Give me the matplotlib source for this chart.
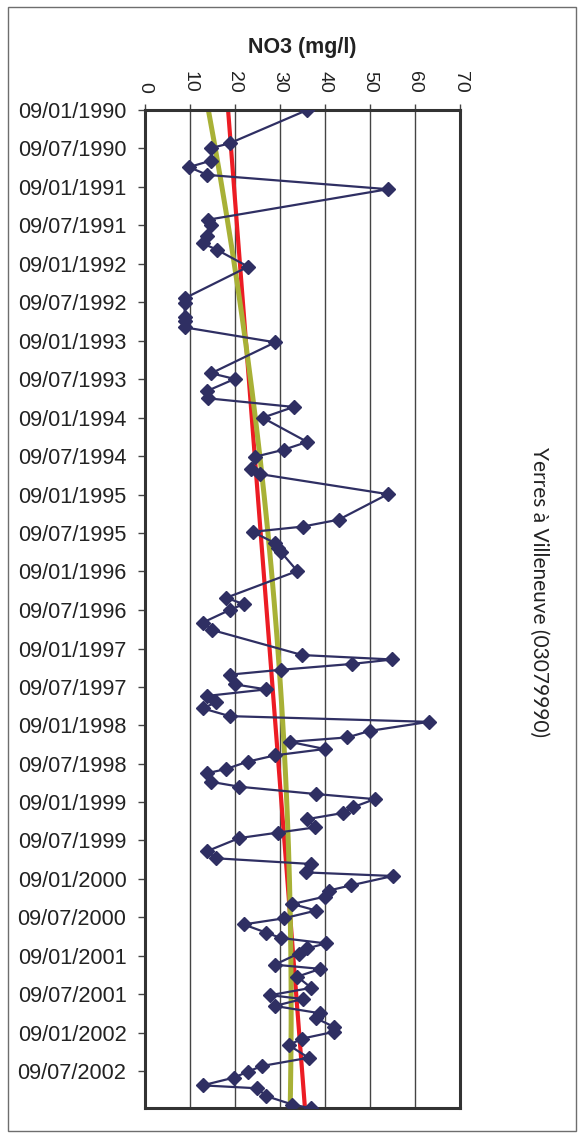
import matplotlib
matplotlib.use("Agg")
import matplotlib.pyplot as plt
import matplotlib.dates as mdates
from matplotlib.patches import Rectangle
import numpy as np
import pandas as pd

# ---- data ----
sample_dates = [
    "1990-01-09", "1990-06-16", "1990-07-09", "1990-09-06", "1990-10-07", "1990-11-13",
    "1991-01-20", "1991-06-14", "1991-07-07", "1991-08-31", "1991-10-04", "1991-11-04",
    "1992-01-23", "1992-06-21", "1992-07-14", "1992-09-16", "1992-10-09", "1992-11-06",
    "1993-01-16", "1993-06-12", "1993-07-09", "1993-09-04", "1993-10-09", "1993-11-19",
    "1994-01-09", "1994-05-04", "1994-06-10", "1994-07-13", "1994-09-10", "1994-10-04",
    "1995-01-07", "1995-05-08", "1995-06-10", "1995-07-05", "1995-08-28", "1995-09-21",
    "1995-10-07", "1996-01-07", "1996-05-13", "1996-06-12", "1996-07-09", "1996-09-08",
    "1996-10-13", "1997-02-09", "1997-03-02", "1997-03-23", "1997-04-20", "1997-05-13",
    "1997-06-28", "1997-07-22", "1997-08-22", "1997-09-21", "1997-10-20", "1997-11-26",
    "1997-12-23", "1998-02-04", "1998-03-07", "1998-03-28", "1998-05-01", "1998-05-31",
    "1998-06-30", "1998-08-04", "1998-08-24", "1998-10-04", "1998-10-27", "1998-12-01",
    "1998-12-25", "1999-02-02", "1999-03-01", "1999-03-30", "1999-05-08", "1999-06-02",
    "1999-06-28", "1999-08-29", "1999-10-02", "1999-10-29", "1999-12-08", "1999-12-25",
    "2000-02-07", "2000-03-03", "2000-04-01", "2000-05-06", "2000-06-06", "2000-07-13",
    "2000-08-11", "2000-09-19", "2000-10-14", "2000-11-09", "2000-12-03", "2000-12-27",
    "2001-02-18", "2001-03-10", "2001-04-16", "2001-06-08", "2001-07-13", "2001-07-31",
    "2001-09-02", "2001-10-07", "2001-10-31", "2001-12-10", "2002-01-03", "2002-02-04",
    "2002-03-07", "2002-05-06", "2002-06-14", "2002-07-11", "2002-08-08", "2002-09-14",
    "2002-09-28", "2002-11-04", "2002-12-14", "2003-01-01",
]
no3_values = [
    36.1, 18.9, 14.8, 14.8, 9.9, 13.9,
    54.0, 14.1, 14.8, 13.9, 12.9, 16.1,
    23.0, 8.9, 8.9, 8.9, 8.9, 8.9,
    29.0, 14.8, 20.0, 13.9, 14.1, 33.1,
    26.2, 36.1, 30.9, 24.6, 23.7, 25.7,
    54.0, 43.1, 35.1, 24.0, 29.0, 29.6,
    30.2, 33.9, 18.1, 22.0, 19.0, 12.9,
    15.0, 35.0, 55.0, 46.1, 30.2, 18.9,
    20.0, 27.0, 13.9, 15.9, 12.9, 18.9,
    63.1, 50.0, 45.0, 32.2, 40.0, 29.0,
    22.9, 18.1, 13.9, 14.8, 21.0, 38.1,
    51.1, 46.2, 44.0, 36.1, 37.9, 29.6,
    21.0, 13.9, 15.9, 37.0, 35.9, 55.1,
    45.9, 40.9, 40.0, 32.8, 38.1, 30.9,
    22.0, 27.0, 30.2, 40.2, 36.1, 34.2,
    28.9, 39.0, 33.9, 37.0, 27.9, 35.1,
    28.9, 39.0, 38.1, 42.0, 42.0, 35.0,
    32.0, 36.4, 26.1, 22.9, 19.9, 12.9,
    25.0, 27.0, 32.8, 37.0,
]
x_ticks = [0, 10, 20, 30, 40, 50, 60, 70]
date_tick_labels = [
    "09/01/1990", "09/07/1990", "09/01/1991", "09/07/1991", "09/01/1992", "09/07/1992",
    "09/01/1993", "09/07/1993", "09/01/1994", "09/07/1994", "09/01/1995", "09/07/1995",
    "09/01/1996", "09/07/1996", "09/01/1997", "09/07/1997", "09/01/1998", "09/07/1998",
    "09/01/1999", "09/07/1999", "09/01/2000", "09/07/2000", "09/01/2001", "09/07/2001",
    "09/01/2002", "09/07/2002",
]
axis_title = "NO3 (mg/l)"
station_title = "Yerres à Villeneuve (03079990)"

# ---- figure ----
W, H, DPI = 587, 1138, 100
fig = plt.figure(figsize=(W / DPI, H / DPI), dpi=DPI)
fig.patch.set_facecolor("white")

# outer border of chart area
fig.add_artist(Rectangle((8 / W, 1 - 1131 / H), (576 - 8) / W, (1131 - 7) / H,
                         transform=fig.transFigure, fill=False,
                         edgecolor="#6e6e6e", linewidth=1.0))

left, right, top, bottom = 144.5, 460.0, 110.0, 1108.3
ax = fig.add_axes([left / W, 1 - bottom / H, (right - left) / W, (bottom - top) / H])

dates = mdates.date2num(pd.to_datetime(sample_dates))
vals = np.array(no3_values)

# trendlines computed from the data (linear and 2nd-order polynomial)
tt = np.linspace(dates.min(), dates.max(), 200)
lin = np.polyval(np.polyfit(dates, vals, 1), tt)
quad = np.polyval(np.polyfit(dates, vals, 2), tt)

ax.plot(lin, tt, color="#ec1c24", linewidth=3.0, zorder=2, solid_capstyle="butt")
ax.plot(quad, tt, color="#a8b136", linewidth=3.6, zorder=2.1, solid_capstyle="butt")
ax.plot(vals, dates, color="#2f2f63", linewidth=1.6, marker="D", markersize=6.8,
        markerfacecolor="#2f2f63", markeredgecolor="#2f2f63", zorder=3)

ax.set_xlim(0, 70)
ax.set_ylim(dates.max(), dates.min())

ax.set_xticks(x_ticks)
ax.xaxis.tick_top()
ax.set_xticklabels([str(v) for v in x_ticks], rotation=-90,
                   fontsize=14, family="Liberation Sans", color="#222222")
ax.tick_params(axis="x", direction="out", length=4, width=1, pad=8.5, color="#444444")

yt = mdates.date2num(pd.to_datetime(date_tick_labels, format="%d/%m/%Y"))
ax.set_yticks(yt)
ax.set_yticklabels(date_tick_labels, fontsize=15.7, family="Liberation Sans", color="#222222")
ax.tick_params(axis="y", direction="out", length=5, width=1, pad=8, color="#444444")

ax.grid(axis="x", color="#444444", linewidth=1.0)
ax.set_axisbelow(True)
for s in ax.spines.values():
    s.set_linewidth(2.2)
    s.set_color("#333333")

fig.text(302 / W, 1 - 47 / H, axis_title, ha="center", va="center",
         fontsize=15.5, fontweight="bold", family="Liberation Sans", color="#222222")
fig.text(539 / W, 1 - 592 / H, station_title, ha="center", va="center", rotation=-90,
         fontsize=15, family="Lato", color="#222222")

fig.savefig("out.png", dpi=DPI)
